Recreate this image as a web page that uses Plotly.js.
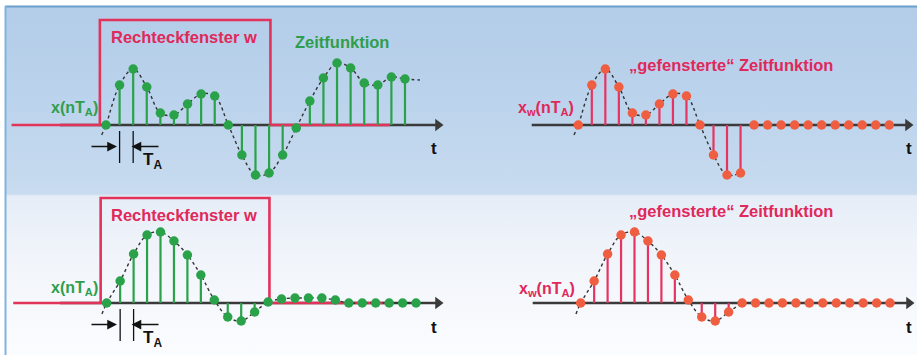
<!DOCTYPE html>
<html><head><meta charset="utf-8">
<script src="https://cdn.plot.ly/plotly-3.0.1.min.js"></script>
<style>
html,body{margin:0;padding:0;background:#fff;overflow:hidden;}
#chart{width:917px;height:355px;background:linear-gradient(to bottom,#ffffff 0px,#ffffff 6px,#b3cce8 6px,#bbd3ec 100px,#c8dbef 194px,#e6edf7 196px,#f0f4fa 250px,#fbfcfe 355px);}
</style></head><body><div id="chart"></div>
<script>
// ---- data (sample index n, signal value) ----
const nTop      = [0,1,2,3,4,5,6,7,8,9,10,11,12,13,14,15,16,17,18,19,20,21,22];
const topSignal = [0,0.40,0.56,0.38,0.12,0.10,0.21,0.31,0.29,0,-0.30,-0.50,-0.48,-0.30,-0.03,0.24,0.47,0.62,0.57,0.42,0.40,0.48,0.46];
const nTopW       = [0,1,2,3,4,5,6,7,8,9,10,11,12,13,14,15,16,17,18,19,20,21,22,23];
const topWindowed = [0,0.40,0.56,0.38,0.12,0.10,0.21,0.31,0.29,0,-0.30,-0.50,-0.48,0,0,0,0,0,0,0,0,0,0,0];
const nBot      = [0,1,2,3,4,5,6,7,8,9,10,11,12,13,14,15,16,17,18,19,20,21,22,23];
const botSignal = [0,0.22,0.49,0.68,0.71,0.62,0.48,0.28,0.03,-0.14,-0.18,-0.09,0.01,0.04,0.05,0.05,0.05,0.03,0,0,0,0,0,0];
const nBotW       = [0,1,2,3,4,5,6,7,8,9,10,11,12,13,14,15,16,17,18,19,20,21,22,23];
const botWindowed = [0,0.22,0.49,0.68,0.71,0.62,0.48,0.28,0.03,-0.14,-0.18,-0.09,0,0,0,0,0,0,0,0,0,0,0,0];
// continuous curve lead-in / lead-out
const topCurveHead = [-0.32, -0.10];
const topCurveTail = [23.1, 0.45];
const botCurveHead = [-0.35, -0.11];
const windowEndIndex = 12;
// rectangular window w(n)
const windowN = [-6.95, -0.45, -0.45, 12.1, 12.1, 20.9];
const windowV = [0, 0, 1.05, 1.05, 0, 0];

// ---- geometry ----
const W = 917, H = 355, splitX = 460, splitY = 190;
const panels = {
  tl: {x0: 106,   s: 13.59, side: 'L'},
  tr: {x0: 578.3, s: 13.52, side: 'R'},
  bl: {x0: 106.7, s: 13.45, side: 'L'},
  br: {x0: 580.7, s: 13.45, side: 'R'}
};
function xRange(p){
  if (p.side === 'L'){ const r0 = -p.x0 / p.s; return [r0, r0 + splitX / p.s]; }
  const r0 = -(p.x0 - splitX) / p.s; return [r0, r0 + (W - splitX) / p.s];
}
const toN = (p, px) => (px - p.x0) / p.s;

const GREEN = '#2aa24a', GREEN_TXT = '#2f9e4c', RED_WIN = '#e2335a', RED_TXT = '#e0285a',
      RED_STEM = '#e63462', RED_MK = '#ef5e40', AXIS = '#3a3a3a';

function stems(n, v){
  const xs = [], ys = [];
  n.forEach((k, i) => { if (v[i] !== 0){ xs.push(k, k, null); ys.push(0, v[i], null); } });
  return {xs, ys};
}

const traces = [];
function axisTraces(p, xa, ya, startPx, tipPx){
  const a = toN(p, startPx), tip = toN(p, tipPx) - 5 / p.s;
  traces.push({x: [a, tip], y: [0, 0], xaxis: xa, yaxis: ya, mode: 'lines',
    line: {color: AXIS, width: 2.4}, hoverinfo: 'skip'});
  traces.push({x: [tip], y: [0], xaxis: xa, yaxis: ya, mode: 'markers',
    marker: {symbol: 'triangle-right', size: 11, color: AXIS}, hoverinfo: 'skip', cliponaxis: false});
}
function panel(p, xa, ya, n, v, curveX, curveY, stemCol, mkCol, withWindow){
  if (withWindow){
    traces.push({x: windowN, y: windowV, xaxis: xa, yaxis: ya, mode: 'lines',
      line: {color: RED_WIN, width: 2.6}, hoverinfo: 'skip'});
  }
  const st = stems(n, v);
  traces.push({x: st.xs, y: st.ys, xaxis: xa, yaxis: ya, mode: 'lines',
    line: {color: stemCol, width: 2.2}, hoverinfo: 'skip', connectgaps: false});
  traces.push({x: curveX, y: curveY, xaxis: xa, yaxis: ya, mode: 'lines',
    line: {color: '#333', width: 1.4, dash: 'dot', shape: 'spline', smoothing: 1}, hoverinfo: 'skip'});
  traces.push({x: n, y: v, xaxis: xa, yaxis: ya, mode: 'markers',
    marker: {color: mkCol, size: 9.5}, hoverinfo: 'skip', cliponaxis: false});
}

// top-left
axisTraces(panels.tl, 'x', 'y', 60, 443);
panel(panels.tl, 'x', 'y', nTop, topSignal,
  [topCurveHead[0], ...nTop, topCurveTail[0]], [topCurveHead[1], ...topSignal, topCurveTail[1]],
  GREEN, GREEN, true);
// top-right
axisTraces(panels.tr, 'x2', 'y', 531.7, 913);
panel(panels.tr, 'x2', 'y', nTopW, topWindowed,
  [topCurveHead[0], ...nTopW.slice(0, windowEndIndex + 1)], [topCurveHead[1], ...topWindowed.slice(0, windowEndIndex + 1)],
  RED_STEM, RED_MK, false);
// bottom-left
axisTraces(panels.bl, 'x3', 'y2', 60, 443);
panel(panels.bl, 'x3', 'y2', nBot, botSignal,
  [botCurveHead[0], ...nBot], [botCurveHead[1], ...botSignal],
  GREEN, GREEN, true);
// bottom-right
axisTraces(panels.br, 'x4', 'y2', 532.7, 914);
panel(panels.br, 'x4', 'y2', nBotW, botWindowed,
  [botCurveHead[0], ...nBotW.slice(0, windowEndIndex + 1)], [botCurveHead[1], ...botWindowed.slice(0, windowEndIndex + 1)],
  RED_STEM, RED_MK, false);

const hidden = {visible: false, showgrid: false, zeroline: false, fixedrange: true};
const dL = [0, splitX / W], dR = [splitX / W, 1];
const yTopPx = 125, yBotPx = 303;
const layout = {
  width: W, height: H, margin: {l: 0, r: 0, t: 0, b: 0},
  paper_bgcolor: 'rgba(0,0,0,0)', plot_bgcolor: 'rgba(0,0,0,0)', showlegend: false,
  xaxis:  Object.assign({}, hidden, {domain: dL, range: xRange(panels.tl), anchor: 'y'}),
  xaxis2: Object.assign({}, hidden, {domain: dR, range: xRange(panels.tr), anchor: 'y'}),
  xaxis3: Object.assign({}, hidden, {domain: dL, range: xRange(panels.bl), anchor: 'y2'}),
  xaxis4: Object.assign({}, hidden, {domain: dR, range: xRange(panels.br), anchor: 'y2'}),
  yaxis:  Object.assign({}, hidden, {domain: [1 - splitY / H, 1], range: [(yTopPx - splitY) / 100, yTopPx / 100], anchor: 'x'}),
  yaxis2: Object.assign({}, hidden, {domain: [0, 1 - splitY / H], range: [(yBotPx - H) / 100, (yBotPx - splitY) / 100], anchor: 'x3'}),
  shapes: [],
  annotations: []
};
const P = px => px / W, Q = py => 1 - py / H;
// frame
layout.shapes.push({type: 'rect', xref: 'paper', yref: 'paper', x0: 0, x1: P(5), y0: 0, y1: 1, fillcolor: '#fff', line: {width: 0}, layer: 'below'});
layout.shapes.push({type: 'line', xref: 'paper', yref: 'paper', x0: P(5), x1: 1, y0: Q(6.5), y1: Q(6.5), line: {color: '#6c9fcc', width: 2}, layer: 'below'});
layout.shapes.push({type: 'line', xref: 'paper', yref: 'paper', x0: P(5.5), x1: P(5.5), y0: 0, y1: Q(6), line: {color: '#80b3de', width: 2}, layer: 'below'});

const FONT = 'Liberation Sans, Arial, sans-serif';
function txt(text, x, y, color, size, xanchor){
  layout.annotations.push({xref: 'paper', yref: 'paper', x: P(x), y: Q(y), text: '<b>' + text + '</b>', showarrow: false,
    xanchor: xanchor || 'center', yanchor: 'middle', font: {family: FONT, size: size, color: color}});
}
// T_A marks (left panels): bars at n=1,2 and arrows; pixel rows given for the top panel, shifted for the bottom
[['x', 'y', panels.tl, yTopPx], ['x3', 'y2', panels.bl, yBotPx]].forEach(([xa, ya, p, y0]) => {
  const yv = py => (yTopPx - py) / 100;
  [1, 2].forEach(k => layout.shapes.push({type: 'line', xref: xa, yref: ya, x0: k, x1: k, y0: yv(131), y1: yv(163), line: {color: '#111', width: 1.3}}));
  layout.annotations.push({xref: xa, yref: ya, axref: xa, ayref: ya, x: toN(p, 117), y: yv(146.5), ax: toN(p, 90), ay: yv(146.5),
    text: '', showarrow: true, arrowhead: 2, arrowsize: 1.3, arrowwidth: 1.5, arrowcolor: '#111', standoff: 0});
  layout.annotations.push({xref: xa, yref: ya, axref: xa, ayref: ya, x: toN(p, 131.5), y: yv(146.5), ax: toN(p, 160), ay: yv(146.5),
    text: '', showarrow: true, arrowhead: 2, arrowsize: 1.3, arrowwidth: 1.5, arrowcolor: '#111', standoff: 0});
});
// texts
txt('Rechteckfenster w', 184, 37, RED_TXT, 16.5);
txt('Zeitfunktion', 341.5, 42, GREEN_TXT, 16.5);
txt('x(nT<sub>A</sub>)', 100, 108, GREEN_TXT, 16, 'right');
txt('T<sub>A</sub>', 152, 161, '#111', 17);
txt('t', 434, 148, '#111', 17);
txt('„gefensterte“ Zeitfunktion', 731, 65, RED_TXT, 16.5);
txt('x<sub>w</sub>(nT<sub>A</sub>)', 576, 108, RED_TXT, 16, 'right');
txt('t', 909, 148, '#111', 17);

txt('Rechteckfenster w', 184, 214.5, RED_TXT, 16.5);
txt('x(nT<sub>A</sub>)', 100, 288, GREEN_TXT, 16, 'right');
txt('T<sub>A</sub>', 152, 339, '#111', 17);
txt('t', 434, 327, '#111', 17);
txt('„gefensterte“ Zeitfunktion', 731, 211, RED_TXT, 16.5);
txt('x<sub>w</sub>(nT<sub>A</sub>)', 577, 289, RED_TXT, 16, 'right');
txt('t', 909, 327, '#111', 17);

Plotly.newPlot('chart', traces, layout, {displayModeBar: false});
</script></body></html>
